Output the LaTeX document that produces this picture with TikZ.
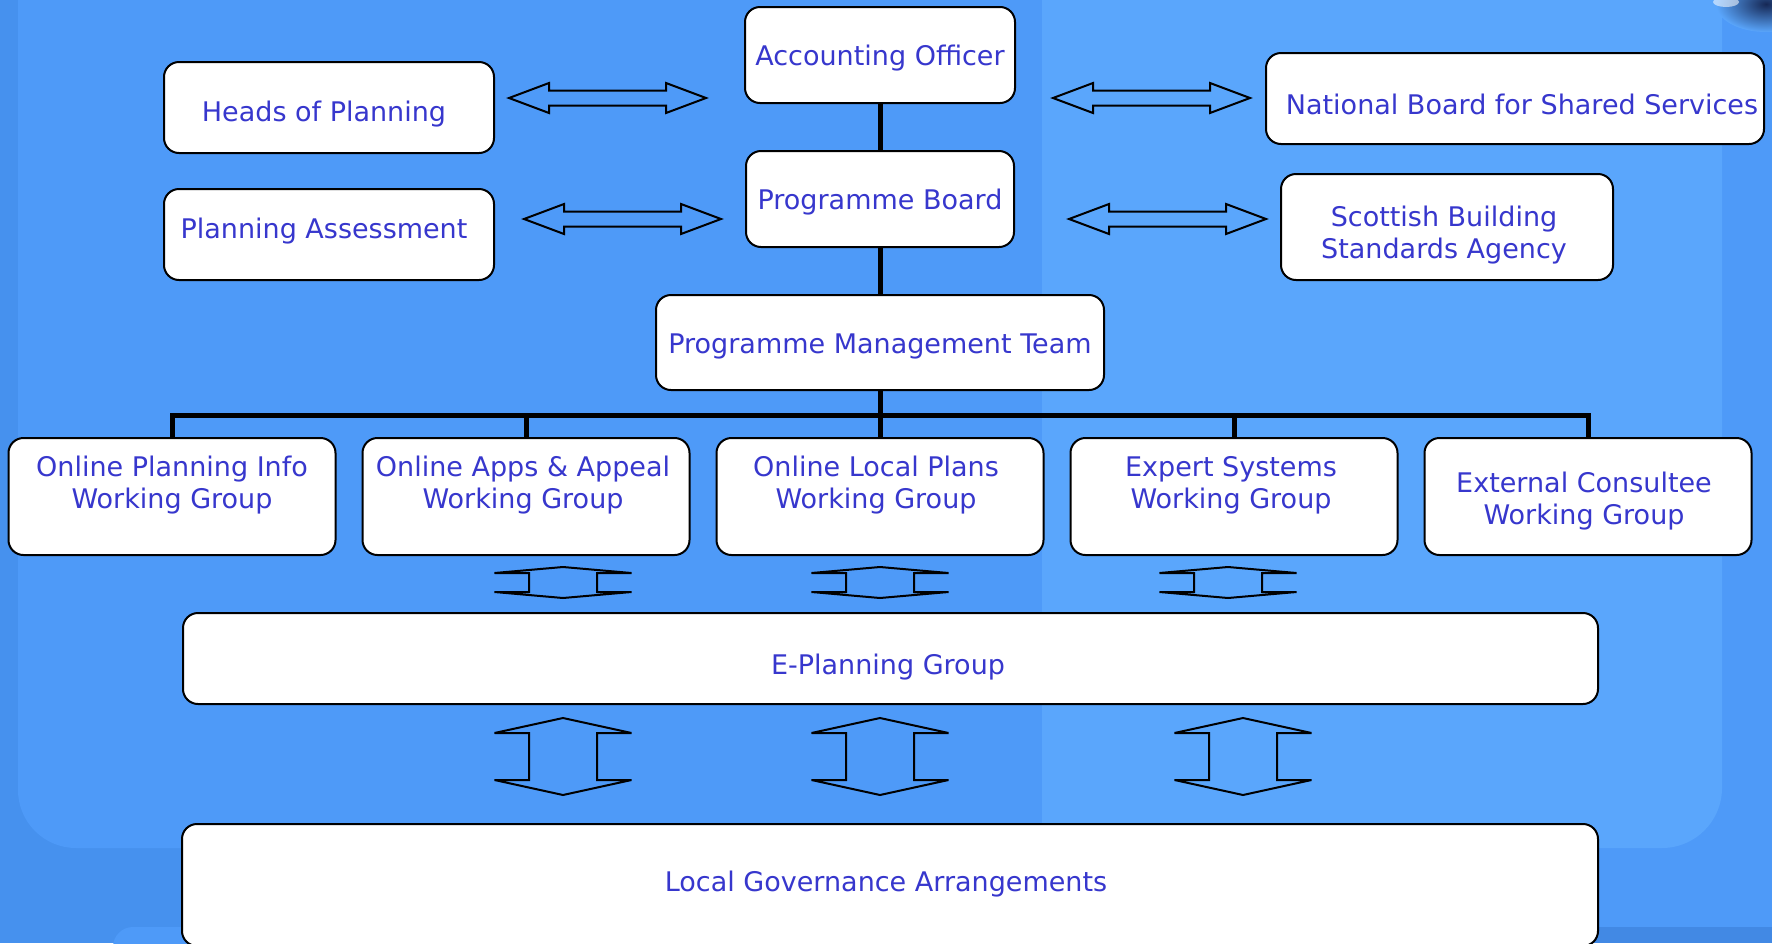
\documentclass[tikz,border=0pt]{standalone}
\usepackage{fontspec}
\setmainfont{DejaVu Sans}
\usetikzlibrary{calc}
\definecolor{bgmid}{RGB}{78,154,248}
\definecolor{bglight}{RGB}{90,166,252}
\definecolor{bgdark}{RGB}{70,145,238}
\definecolor{bgband}{RGB}{66,137,228}
\definecolor{txtblue}{RGB}{55,55,205}
\definecolor{globe}{RGB}{22,40,85}
\tikzset{
  box/.style={draw=black, line width=2pt, fill=white, rounded corners=15pt, inner sep=0pt},
  txt/.style={text=txtblue, font=\fontsize{27}{32}\selectfont, align=center, inner sep=0pt},
  conn/.style={draw=black, line width=5pt},
  blockarrow/.style={draw=black, line width=2pt, line join=miter, miter limit=3},
}
\newcommand\HArrow[3]{\draw[blockarrow] (#1,#3) -- ({#1+40},{#3-15}) -- ({#1+40},{#3-7.5}) -- ({#2-40},{#3-7.5}) -- ({#2-40},{#3-15}) -- (#2,#3) -- ({#2-40},{#3+15}) -- ({#2-40},{#3+7.5}) -- ({#1+40},{#3+7.5}) -- ({#1+40},{#3+15}) -- cycle;}
\newcommand\VArrow[4]{\draw[blockarrow] (#1,#2) -- ({#1+68.5},{#2+#4}) -- ({#1+34},{#2+#4}) -- ({#1+34},{#3-#4}) -- ({#1+68.5},{#3-#4}) -- (#1,#3) -- ({#1-68.5},{#3-#4}) -- ({#1-34},{#3-#4}) -- ({#1-34},{#2+#4}) -- ({#1-68.5},{#2+#4}) -- cycle;}
\begin{document}
\begin{tikzpicture}[x=1pt,y=-1pt]
\useasboundingbox (0,0) rectangle (1772,943);
% background
\fill[bgdark] (0,0) rectangle (1772,943);
\fill[bgmid, rounded corners=58pt] (18,-100) rectangle (1900,848);
\fill[bgmid] (1300,840) rectangle (1772,927);
\fill[bgband] (1300,927) rectangle (1772,943);
\fill[bgmid, rounded corners=20pt] (113,927) rectangle (1000,1000);
\fill[bglight] (1042,-100) rectangle (1600,848);
\fill[bglight, rounded corners=60pt] (1500,-100) rectangle (1722,848);
\shade[inner color=globe, outer color=bglight] (1766,4) ellipse [x radius=50pt, y radius=28pt];
\fill[white, opacity=0.55] (1726,2) ellipse [x radius=13pt, y radius=5pt];

% boxes
\node[box, minimum width=270pt, minimum height=96pt] (ao) at (880,55) {};
\node[box, minimum width=330pt, minimum height=91pt] (hop) at (329,107.5) {};
\node[box, minimum width=330pt, minimum height=91pt] (pa) at (329,234.5) {};
\node[box, minimum width=268pt, minimum height=96pt] (pb) at (880,199) {};
\node[box, minimum width=448pt, minimum height=95pt] (pmt) at (880,342.5) {};
\node[box, minimum width=498pt, minimum height=91pt] (nb) at (1515,98.5) {};
\node[box, minimum width=332pt, minimum height=106pt] (sbsa) at (1447,227) {};
\node[box, minimum width=327pt, minimum height=117pt] (wg1) at (172,496.5) {};
\node[box, minimum width=327pt, minimum height=117pt] (wg2) at (526,496.5) {};
\node[box, minimum width=327pt, minimum height=117pt] (wg3) at (880,496.5) {};
\node[box, minimum width=327pt, minimum height=117pt] (wg4) at (1234,496.5) {};
\node[box, minimum width=327pt, minimum height=117pt] (wg5) at (1588,496.5) {};
\node[box, minimum width=1415pt, minimum height=91pt] (epg) at (890.5,658.5) {};
\node[box, minimum width=1416pt, minimum height=122pt] (lga) at (890,885) {};

% connectors
\coordinate (busc) at (880,415);
\draw[conn] (ao.south) -- (pb.north);
\draw[conn] (pb.south) -- (pmt.north);
\draw[conn] (pmt.south) -- (busc);
\draw[conn, line join=miter] (wg1.north) |- (busc) -| (wg5.north);
\draw[conn] (wg2.north) -- (wg2.north |- busc);
\draw[conn] (wg3.north) -- (wg3.north |- busc);
\draw[conn] (wg4.north) -- (wg4.north |- busc);

% block arrows
\HArrow{509}{706}{98}
\HArrow{1053}{1250}{98}
\HArrow{524}{721}{219}
\HArrow{1069}{1266}{219}
\VArrow{563}{567}{598}{6}
\VArrow{880}{567}{598}{6}
\VArrow{1228}{567}{598}{6}
\VArrow{563}{718}{795}{15}
\VArrow{880}{718}{795}{15}
\VArrow{1243}{718}{795}{15}

% texts
\node[txt, anchor=base] (aoT) at (880,65.8) {Accounting Officer};
\node[txt, anchor=base] (hopT) at (324,121.7) {Heads of Planning};
\node[txt, anchor=base] (paT) at (324,238) {Planning Assessment};
\node[txt, anchor=base] (pbT) at (880,209.5) {Programme Board};
\node[txt, anchor=base] (pmtT) at (880,353) {Programme Management Team};
\node[txt, anchor=base] (nbT) at (1522,114) {National Board for Shared Services};
\node[txt] (sbsaT) at (1444,235.3) {Scottish Building\\Standards Agency};
\node[txt] (wg1T) at (172,484.8) {Online Planning Info\\Working Group};
\node[txt] (wg2T) at (523,484.8) {Online Apps \& Appeal\\Working Group};
\node[txt] (wg3T) at (876,484.8) {Online Local Plans\\Working Group};
\node[txt] (wg4T) at (1231,484.8) {Expert Systems\\Working Group};
\node[txt] (wg5T) at (1584,500.8) {External Consultee\\Working Group};
\node[txt, anchor=base] (epgT) at (888,674) {E-Planning Group};
\node[txt, anchor=base] (lgaT) at (886,891) {Local Governance Arrangements};
\end{tikzpicture}
\end{document}
